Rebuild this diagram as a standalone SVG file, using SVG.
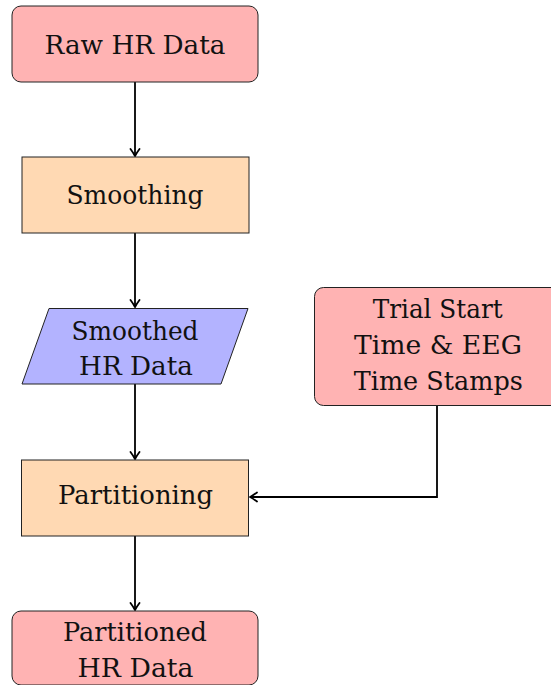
<svg xmlns="http://www.w3.org/2000/svg" width="551" height="685" viewBox="0 0 551 685">
<defs>
<style>
.red{fill:#ffb3b3;stroke:#222;stroke-width:1}
.org{fill:#ffd9b3;stroke:#222;stroke-width:1}
.blu{fill:#b3b3ff;stroke:#222;stroke-width:1}
.t{font-family:'DejaVu Serif',serif;font-size:26.5px;fill:#111;text-anchor:middle}
.edge{fill:none;stroke:#000;stroke-width:1.8}
</style>
<marker id="arr" markerUnits="userSpaceOnUse" viewBox="-9 -6 10 12" refX="0" refY="0" markerWidth="10" markerHeight="12" orient="auto">
<path d="M -7 -4.5 Q -2.5 -1.2 0 0 Q -2.5 1.2 -7 4.5" fill="none" stroke="#000" stroke-width="1.8" stroke-linecap="round" stroke-linejoin="round"/>
</marker>
</defs>
<rect width="551" height="685" fill="#fff"/>
<g id="edges">
<path class="edge" d="M135 82 V156" marker-end="url(#arr)"/>
<path class="edge" d="M135 233 V307" marker-end="url(#arr)"/>
<path class="edge" d="M135 384 V459" marker-end="url(#arr)"/>
<path class="edge" d="M135 536 V610" marker-end="url(#arr)"/>
<path class="edge" d="M437 405 V497 H250" marker-end="url(#arr)"/>
</g>
<g class="t">
<g id="raw">
<rect class="red" x="12" y="6" width="246" height="76" rx="9"/>
<text x="135" y="54" textLength="181" lengthAdjust="spacingAndGlyphs">Raw HR Data</text>
</g>
<g id="smoothing">
<rect class="org" x="22" y="157" width="227" height="76"/>
<text x="135" y="203.5" textLength="137" lengthAdjust="spacingAndGlyphs">Smoothing</text>
</g>
<g id="smoothed">
<polygon class="blu" points="49,308.5 248,308.5 221,384 22,384"/>
<text x="135" y="339.5" textLength="127" lengthAdjust="spacingAndGlyphs">Smoothed</text>
<text x="136" y="375" textLength="114" lengthAdjust="spacingAndGlyphs">HR Data</text>
</g>
<g id="partitioning">
<rect class="org" x="21.5" y="460" width="227" height="76"/>
<text x="135.5" y="503.5" textLength="155" lengthAdjust="spacingAndGlyphs">Partitioning</text>
</g>
<g id="trial">
<rect class="red" x="314.5" y="287.5" width="246" height="118" rx="9"/>
<text x="437.7" y="318.3" textLength="130" lengthAdjust="spacingAndGlyphs">Trial Start</text>
<text x="438" y="354" textLength="168" lengthAdjust="spacingAndGlyphs">Time &amp; EEG</text>
<text x="438.3" y="389.5" textLength="169" lengthAdjust="spacingAndGlyphs">Time Stamps</text>
</g>
<g id="partitioned">
<rect class="red" x="12" y="611" width="246" height="74" rx="9"/>
<text x="135" y="641" textLength="144" lengthAdjust="spacingAndGlyphs">Partitioned</text>
<text x="135.5" y="677" textLength="116" lengthAdjust="spacingAndGlyphs">HR Data</text>
</g>
</g>
</svg>
